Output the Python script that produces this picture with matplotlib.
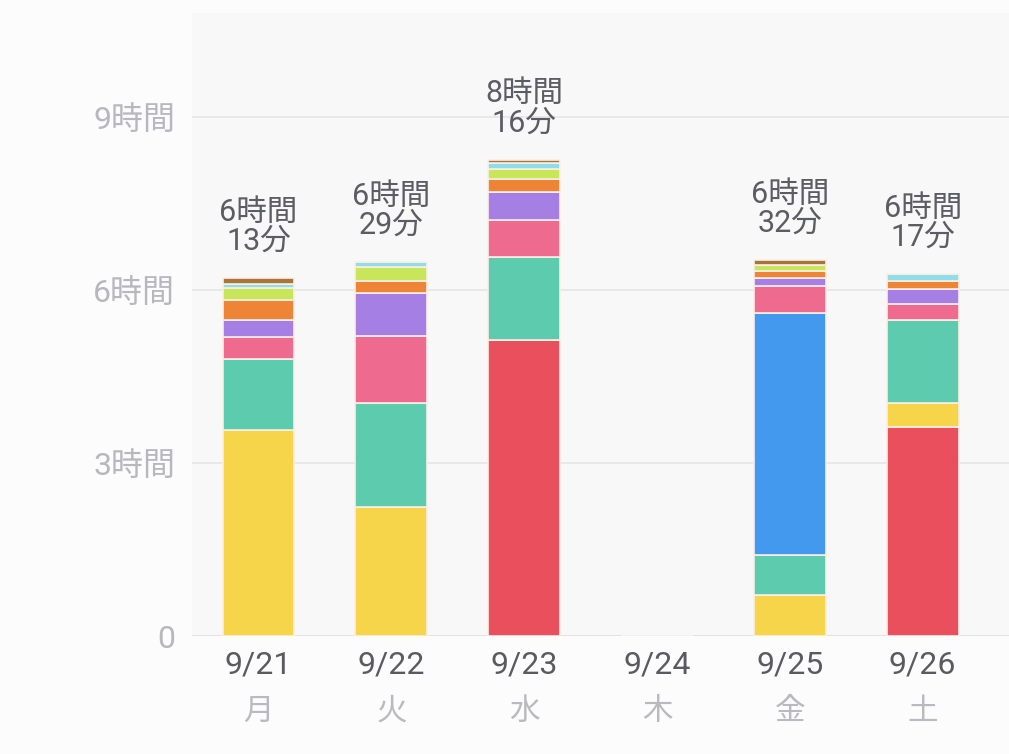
import matplotlib
matplotlib.use("Agg")
import matplotlib.pyplot as plt
import matplotlib.transforms as mtransforms
import numpy as np

# Roboto for the (tabular) digits, Noto CJK for the Japanese glyphs
plt.rcParams['font.family'] = ['Roboto', 'Noto Sans CJK JP', 'DejaVu Sans']

# days shown on the x axis
dates = ['9/21', '9/22', '9/23', '9/24', '9/25', '9/26']
weekdays = ['月', '火', '水', '木', '金', '土']
totals = ['6時間\n13分', '6時間\n29分', '8時間\n16分', '', '6時間\n32分', '6時間\n17分']

# hours per category, bottom to top of each stack
red = [0, 0, 5.13, 0, 0, 3.62]
yellow = [3.57, 2.24, 0, 0, 0.71, 0.42]
green = [1.23, 1.80, 1.44, 0, 0.69, 1.43]
blue = [0, 0, 0, 0, 4.20, 0]
pink = [0.38, 1.16, 0.64, 0, 0.46, 0.29]
purple = [0.29, 0.75, 0.48, 0, 0.15, 0.25]
orange = [0.35, 0.20, 0.24, 0, 0.11, 0.15]
lime = [0.22, 0.24, 0.17, 0, 0.12, 0]
cyan = [0.07, 0.09, 0.10, 0, 0, 0.12]
brown = [0.10, 0, 0.06, 0, 0.08, 0]

series = [red, yellow, green, blue, pink, purple, orange, lime, cyan, brown]
colors = ['#E94F5C', '#F7D54A', '#5DCCAE', '#4399EE', '#EE6B8F',
          '#A57FE3', '#EE8436', '#C8E65A', '#8FDDE8', '#A7743A']

yticks = [0, 3, 6, 9]
ytick_labels = ['0', '3時間', '6時間', '9時間']

fig = plt.figure(figsize=(10.09, 7.54), dpi=100, facecolor='#fcfcfd')
ax = fig.add_axes([192 / 1009, 1 - 636 / 754, 1 - 192 / 1009, (636 - 13) / 754])
ax.set_facecolor('#f8f8f9')

x = np.arange(len(dates))
bottom = np.zeros(len(dates))
for vals, c in zip(series, colors):
    vals = np.array(vals, dtype=float)
    ax.bar(x, vals, width=0.54, bottom=bottom, color=c,
           edgecolor='#fbeee6', linewidth=1.2, zorder=3)
    bottom += vals

# total labels above bars
for xi, top, lab in zip(x, bottom, totals):
    if lab:
        ax.annotate(lab, (xi, top), xytext=(0, 16), textcoords='offset points',
                    ha='center', va='bottom', fontsize=22, color='#5c5c63',
                    linespacing=1.0)

ax.set_xlim(-0.5, 5.65)
ax.set_ylim(0, 10.8)

for y in yticks:
    ax.axhline(y, color='#dcdce0' if y == 0 else '#e4e4e8', linewidth=1.1, zorder=1)

ax.set_yticks(yticks)
ax.set_yticklabels(ytick_labels, fontsize=23, color='#b7b7bd')
ax.tick_params(axis='y', length=0, pad=12)
ax.set_xticks([])
for s in ax.spines.values():
    s.set_visible(False)

trans = mtransforms.blended_transform_factory(ax.transData, fig.transFigure)
for xi, d, w in zip(x, dates, weekdays):
    ax.text(xi, 1 - 665 / 754, d, transform=trans, ha='center', va='center',
            fontsize=23, color='#5a5a61')
    ax.text(xi, 1 - 711 / 754, w, transform=trans, ha='center', va='center',
            fontsize=22, color='#b9b9bf')

plt.savefig('out.png', dpi=100, facecolor=fig.get_facecolor())
